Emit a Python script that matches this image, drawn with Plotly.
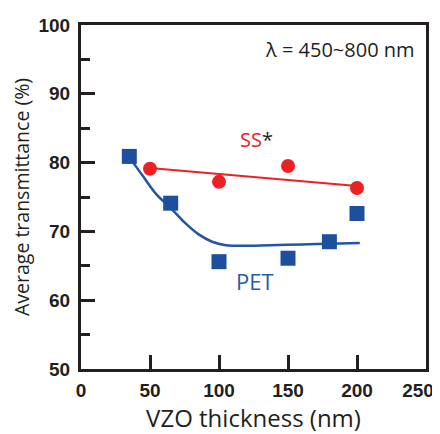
import plotly.graph_objects as go

# Data
ss_x = [50, 100, 150, 200]
ss_y = [79.1, 77.2, 79.5, 76.3]

pet_x = [35, 65, 100, 150, 180, 200]
pet_y = [80.9, 74.1, 65.6, 66.1, 68.5, 72.6]

ss_fit_x = [50, 200]
ss_fit_y = [79.2, 76.6]

pet_fit_x = [35, 45, 55, 65, 75, 85, 95, 105, 118, 137, 160, 180, 202]
pet_fit_y = [80.8, 78.0, 75.3, 73.4, 71.3, 69.6, 68.5, 68.0, 67.9, 68.0, 68.1, 68.2, 68.3]

x_ticks = [0, 50, 100, 150, 200, 250]
x_ticktext = ["0", "50", "100", "150", "200", "250\u00a0\u00a0\u00a0"]
y_ticks = [50, 60, 70, 80, 90, 100]

RED = "#ed2024"
BLUE = "#1d4f9f"
AX = "#231f20"
FONT = "Open Sans"

fig = go.Figure()
fig.add_trace(go.Scatter(x=ss_fit_x, y=ss_fit_y, mode="lines",
                         line=dict(color=RED, width=2), showlegend=False))
fig.add_trace(go.Scatter(x=pet_fit_x, y=pet_fit_y, mode="lines",
                         line=dict(color="#2354a6", width=2.5, shape="spline"),
                         showlegend=False))
fig.add_trace(go.Scatter(x=ss_x, y=ss_y, mode="markers",
                         marker=dict(symbol="circle", size=14, color=RED),
                         showlegend=False))
fig.add_trace(go.Scatter(x=pet_x, y=pet_y, mode="markers",
                         marker=dict(symbol="square", size=15, color=BLUE),
                         showlegend=False))

fig.add_annotation(x=243.5, y=96.4, xref="x", yref="y", text="λ = 450~800 nm",
                   showarrow=False, xanchor="right", yanchor="middle",
                   font=dict(family=FONT, size=20, color=AX))
fig.add_annotation(x=127, y=83.3, xref="x", yref="y",
                   text="<span style='color:%s'>SS</span>*" % RED,
                   showarrow=False, xanchor="center", yanchor="middle",
                   font=dict(family=FONT, size=20, color=AX))
fig.add_annotation(x=126, y=62.8, xref="x", yref="y", text="PET",
                   showarrow=False, xanchor="center", yanchor="middle",
                   font=dict(family=FONT, size=22, color="#2b5aa8"))

fig.update_xaxes(range=[0, 250], tickvals=x_ticks, ticktext=x_ticktext,
                 showline=True, mirror=True, linewidth=3, linecolor=AX,
                 ticks="inside", ticklen=14, tickwidth=3, tickcolor=AX,
                 showgrid=False, zeroline=False, ticklabelstandoff=2,
                 ticklabeloverflow="allow", automargin=False,
                 tickfont=dict(family="Liberation Sans", size=19, color=AX, weight="bold"),
                 title=dict(text="VZO thickness (nm)", standoff=10,
                            font=dict(family=FONT, size=24, color=AX)))
fig.update_yaxes(range=[50, 100], tickvals=y_ticks, ticktext=[str(v) for v in y_ticks],
                 showline=True, mirror=True, linewidth=3, linecolor=AX,
                 ticks="inside", ticklen=14, tickwidth=3, tickcolor=AX,
                 minor=dict(ticks="inside", ticklen=9, tickwidth=3, tickcolor=AX, dtick=5,
                            showgrid=False),
                 showgrid=False, zeroline=False, ticklabelstandoff=4,
                 ticklabeloverflow="allow", automargin=False,
                 tickfont=dict(family="Liberation Sans", size=19, color=AX, weight="bold"),
                 title=dict(text="Average transmittance (%)", standoff=8,
                            font=dict(family=FONT, size=19.5, color=AX)))

# The page adds an 8px body margin, so the figure is sized to fit the 440x434 window.
fig.update_layout(width=432, height=426, margin=dict(l=73, r=14, t=17, b=65),
                  plot_bgcolor="white", paper_bgcolor="white")

fig.write_html("out.html")
